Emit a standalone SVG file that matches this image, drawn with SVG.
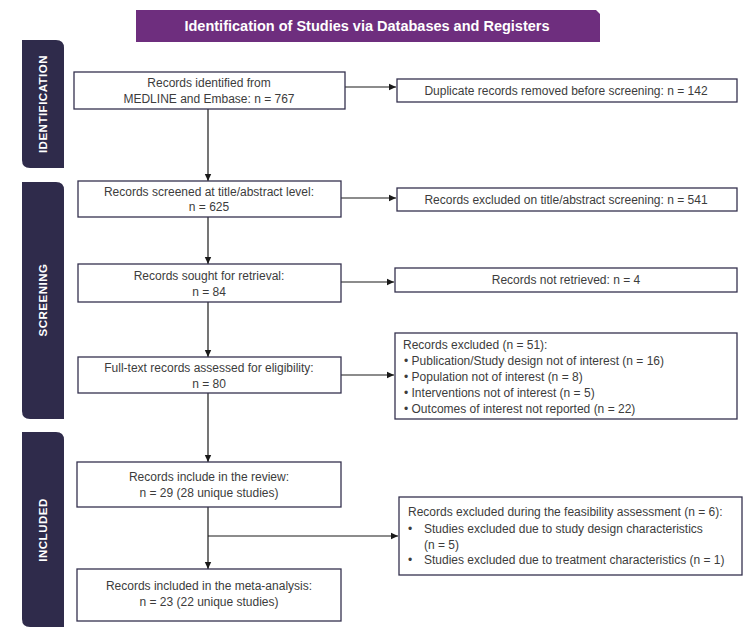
<svg xmlns="http://www.w3.org/2000/svg" width="749" height="642" viewBox="0 0 749 642">
<defs>
<marker id="ah" markerWidth="8" markerHeight="8" refX="7" refY="4" orient="auto" markerUnits="userSpaceOnUse">
<path d="M0,0.8 L7,4 L0,7.2 z" fill="#1a1a1a"/>
</marker>
</defs>
<style>
.bx{fill:#fff;stroke:#35324f;stroke-width:1.3}
.t{font-family:"Liberation Sans",Arial,sans-serif;font-size:12px;fill:#3c3c3c}
.c{text-anchor:middle}
.side{fill:#2f2b4b}
.sl{font-family:"Liberation Sans",Arial,sans-serif;font-size:11.5px;font-weight:bold;fill:#fff;text-anchor:middle;letter-spacing:0.5px}
.ln{stroke:#1a1a1a;stroke-width:1.2;fill:none}
</style>
<rect width="749" height="642" fill="#fff"/>
<g id="title">
<path d="M136,10 H596 L600,14 V42 H136 z" fill="#6e2e7e"/>
<text x="367" y="31" font-family="Liberation Sans,Arial,sans-serif" font-size="14.5" font-weight="bold" fill="#fff" text-anchor="middle">Identification of Studies via Databases and Registers</text>
</g>
<g id="side-identification">
<path d="M22,40 H56 Q64,40 64,48 V168 H30 Q22,168 22,160 z" class="side"/>
<text class="sl" transform="translate(47,104) rotate(-90)">IDENTIFICATION</text>
</g>
<g id="side-screening">
<path d="M22,182 H56 Q64,182 64,190 V419 H30 Q22,419 22,411 z" class="side"/>
<text class="sl" transform="translate(47,300) rotate(-90)">SCREENING</text>
</g>
<g id="side-included">
<path d="M22,432 H56 Q64,432 64,440 V627 H30 Q22,627 22,619 z" class="side"/>
<text class="sl" transform="translate(47,530) rotate(-90)">INCLUDED</text>
</g>
<g id="connectors">
<line class="ln" x1="208" y1="109" x2="208" y2="181" marker-end="url(#ah)"/>
<line class="ln" x1="208" y1="217" x2="208" y2="264" marker-end="url(#ah)"/>
<line class="ln" x1="208" y1="302" x2="208" y2="357" marker-end="url(#ah)"/>
<line class="ln" x1="208" y1="393" x2="208" y2="462" marker-end="url(#ah)"/>
<line class="ln" x1="208" y1="507" x2="208" y2="569" marker-end="url(#ah)"/>
<line class="ln" x1="345" y1="87" x2="396" y2="87" marker-end="url(#ah)"/>
<line class="ln" x1="341" y1="198" x2="396" y2="198" marker-end="url(#ah)"/>
<line class="ln" x1="341" y1="282" x2="394" y2="282" marker-end="url(#ah)"/>
<line class="ln" x1="341" y1="375" x2="394" y2="375" marker-end="url(#ah)"/>
<line class="ln" x1="208" y1="536" x2="398" y2="536" marker-end="url(#ah)"/>
</g>
<g id="n-identified">
<rect class="bx" x="74" y="72" width="271" height="37"/>
<text class="t c" x="209" y="87">Records identified from</text>
<text class="t c" x="209" y="103">MEDLINE and Embase: n = 767</text>
</g>
<g id="n-duplicates">
<rect class="bx" x="397" y="79" width="340" height="23"/>
<text class="t c" x="566" y="95">Duplicate records removed before screening: n = 142</text>
</g>
<g id="n-screened">
<rect class="bx" x="78" y="181" width="263" height="36"/>
<text class="t c" x="209" y="196">Records screened at title/abstract level:</text>
<text class="t c" x="209" y="211">n = 625</text>
</g>
<g id="n-excluded-title">
<rect class="bx" x="397" y="188" width="340" height="23"/>
<text class="t c" x="566" y="204">Records excluded on title/abstract screening: n = 541</text>
</g>
<g id="n-sought">
<rect class="bx" x="78" y="264" width="263" height="38"/>
<text class="t c" x="209" y="280">Records sought for retrieval:</text>
<text class="t c" x="209" y="296">n = 84</text>
</g>
<g id="n-not-retrieved">
<rect class="bx" x="395" y="268" width="342" height="24"/>
<text class="t c" x="566" y="284">Records not retrieved: n = 4</text>
</g>
<g id="n-fulltext">
<rect class="bx" x="78" y="357" width="263" height="36"/>
<text class="t c" x="209" y="372">Full-text records assessed for eligibility:</text>
<text class="t c" x="209" y="388">n = 80</text>
</g>
<g id="n-excluded-51">
<rect class="bx" x="395" y="333" width="342" height="86"/>
<text class="t" x="403" y="349">Records excluded (n = 51):</text>
<text class="t" x="404" y="365">• Publication/Study design not of interest (n = 16)</text>
<text class="t" x="404" y="381">• Population not of interest (n = 8)</text>
<text class="t" x="404" y="397">• Interventions not of interest (n = 5)</text>
<text class="t" x="404" y="413">• Outcomes of interest not reported (n = 22)</text>
</g>
<g id="n-review">
<rect class="bx" x="77" y="462" width="264" height="45"/>
<text class="t c" x="209" y="481">Records include in the review:</text>
<text class="t c" x="209" y="497">n = 29 (28 unique studies)</text>
</g>
<g id="n-feasibility">
<rect class="bx" x="399" y="497" width="343" height="78"/>
<text class="t" x="408" y="516">Records excluded during the feasibility assessment (n = 6):</text>
<text class="t" x="408" y="533">•</text>
<text class="t" x="424" y="533">Studies excluded due to study design characteristics</text>
<text class="t" x="424" y="549">(n = 5)</text>
<text class="t" x="408" y="564">•</text>
<text class="t" x="424" y="564">Studies excluded due to treatment characteristics (n = 1)</text>
</g>
<g id="n-meta">
<rect class="bx" x="77" y="569" width="264" height="52"/>
<text class="t c" x="209" y="590">Records included in the meta-analysis:</text>
<text class="t c" x="209" y="606">n = 23 (22 unique studies)</text>
</g>
</svg>
